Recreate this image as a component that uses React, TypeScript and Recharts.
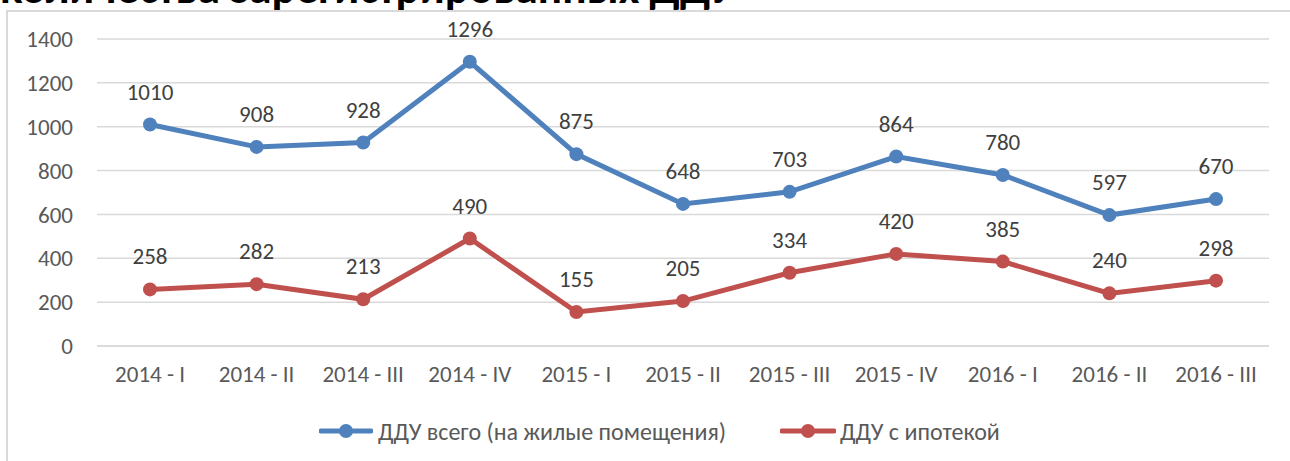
import { LineChart, Line, CartesianGrid, XAxis, YAxis, Legend, LabelList } from "recharts";

const quarters = ["2014 - I", "2014 - II", "2014 - III", "2014 - IV", "2015 - I", "2015 - II", "2015 - III", "2015 - IV", "2016 - I", "2016 - II", "2016 - III"];
const totalDdu = [1010, 908, 928, 1296, 875, 648, 703, 864, 780, 597, 670];
const mortgageDdu = [258, 282, 213, 490, 155, 205, 334, 420, 385, 240, 298];
const yTicks = [0, 200, 400, 600, 800, 1000, 1200, 1400];

const data = quarters.map((q, i) => ({ q, total: totalDdu[i], mortgage: mortgageDdu[i] }));

const FONT = "Carlito, Calibri, 'Open Sans', sans-serif";
const BLUE = "#4F81BD";
const RED = "#C0504D";

function LegendIcon({ color, w }: { color: string; w: number }) {
  return (
    <svg width={w} height={16} style={{ display: "block" }}>
      <line x1={2} y1={8} x2={w - 2} y2={8} stroke={color} strokeWidth={5} strokeLinecap="round" />
      <circle cx={w / 2} cy={8} r={7} fill={color} />
    </svg>
  );
}

// height 0 so the legend does not take space from the plot
function renderLegend() {
  return (
    <div style={{ height: 0, overflow: "visible" }}>
      <div style={{ display: "flex", alignItems: "center", height: 28, paddingLeft: 319, fontFamily: FONT, fontSize: 24, color: "#595959", whiteSpace: "nowrap" }}>
        <LegendIcon color={BLUE} w={54} />
        <span style={{ marginLeft: 5 }}>ДДУ всего (на жилые помещения)</span>
        <span style={{ width: 54 }} />
        <LegendIcon color={RED} w={56} />
        <span style={{ marginLeft: 4 }}>ДДУ с ипотекой</span>
      </div>
    </div>
  );
}

export default function App() {
  return (
    <div style={{ position: "fixed", left: 0, top: 0, width: 1290, height: 461, background: "#fff", overflow: "hidden" }}>
      <div style={{ position: "absolute", left: 6, top: 10, width: 1400, height: 500, borderTop: "2px solid #d9d9d9", borderLeft: "2px solid #d9d9d9" }} />
      <div style={{ position: "absolute", left: 0, top: -35, lineHeight: "45px", fontFamily: FONT, fontWeight: "bold", fontSize: 45, color: "#000", whiteSpace: "nowrap" }}>
        количества зарегистрированных ДДУ
      </div>
      <div style={{ position: "absolute", left: 0, top: 0 }}>
        <LineChart width={1290} height={461} data={data} margin={{ top: 39, right: 21, left: 0, bottom: 0 }}>
          <CartesianGrid vertical={false} stroke="#d9d9d9" strokeWidth={1.5} />
          <XAxis dataKey="q" height={115} padding={{ left: 53, right: 53 }} axisLine={{ stroke: "#d9d9d9", strokeWidth: 1.5 }} tickLine={false} tickSize={0} tickMargin={20}
            tick={{ fontFamily: FONT, fontSize: 23, fill: "#595959" }} interval={0} />
          <YAxis width={97} domain={[0, 1400]} ticks={yTicks} axisLine={false} tickLine={false} tickSize={0} tickMargin={24}
            tick={{ fontFamily: FONT, fontSize: 23, fill: "#595959" }} />
          <Legend content={renderLegend} wrapperStyle={{ position: "absolute", left: 0, top: 417, width: 1290 }} />
          <Line dataKey="total" stroke={BLUE} strokeWidth={5} isAnimationActive={false}
            dot={{ r: 7, fill: BLUE, stroke: BLUE, strokeWidth: 0 }}>
            <LabelList dataKey="total" position="top" offset={25} style={{ fontFamily: FONT, fontSize: 23, fill: "#404040" }} />
          </Line>
          <Line dataKey="mortgage" stroke={RED} strokeWidth={5} isAnimationActive={false}
            dot={{ r: 7, fill: RED, stroke: RED, strokeWidth: 0 }}>
            <LabelList dataKey="mortgage" position="top" offset={25} style={{ fontFamily: FONT, fontSize: 23, fill: "#404040" }} />
          </Line>
        </LineChart>
      </div>
    </div>
  );
}
